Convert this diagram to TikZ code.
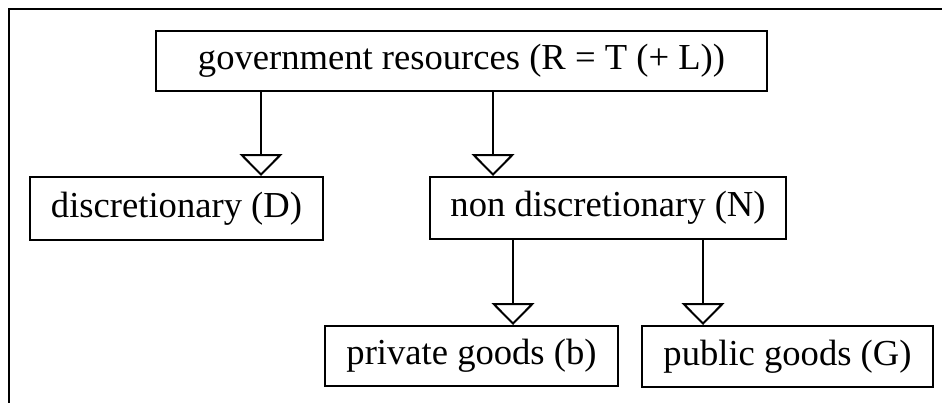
\documentclass[tikz,border=0pt]{standalone}
\usepackage{fontspec}
\setmainfont{Liberation Serif}
\usetikzlibrary{arrows.meta}
\begin{document}
\begin{tikzpicture}[x=0.5pt,y=-0.5pt,
	box/.style={draw, line width=1pt, inner sep=0pt, font=\fontsize{18.3}{22}\selectfont},
	arr/.style={line width=1pt, -{Triangle[open, width=21.5pt, length=11pt]}}]
\useasboundingbox (0,0) rectangle (942,403);
\draw[line width=1pt] (942,9) -- (9,9) -- (9,403);

\node[box, minimum width=305.5pt, minimum height=30pt] (gov) at (461.5,61) {government resources (R = T (+ L))};
\node[box, minimum width=146.5pt, minimum height=31.5pt] (disc) at (176.5,208.5) {discretionary (D)};
\node[box, minimum width=178pt, minimum height=31pt] (nondisc) at (608,208) {non discretionary (N)};
\node[box, minimum width=146.5pt, minimum height=30pt] (priv) at (471.5,356) {private goods (b)};
\node[box, minimum width=145.5pt, minimum height=30.5pt] (pub) at (787.5,356.5) {public goods (G)};

% where the arrows run down
\coordinate (xd) at (261,0);
\coordinate (xn) at (493,0);
\coordinate (xb) at (513,0);
\coordinate (xg) at (703,0);

\draw[arr] (gov.south -| xd) -- (disc.north -| xd);
\draw[arr] (gov.south -| xn) -- (nondisc.north -| xn);
\draw[arr] (nondisc.south -| xb) -- (priv.north -| xb);
\draw[arr] (nondisc.south -| xg) -- (pub.north -| xg);
\end{tikzpicture}
\end{document}
